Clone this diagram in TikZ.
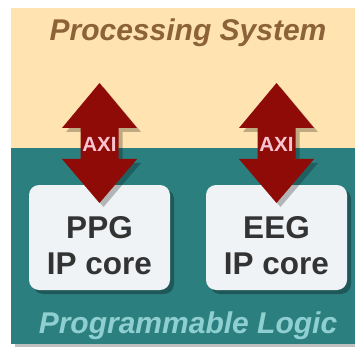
\documentclass[tikz,border=0pt]{standalone}
\usepackage{fontspec}
\setmainfont{Liberation Sans}
\definecolor{psfill}{HTML}{FFE3B0}
\definecolor{plfill}{HTML}{2C7F7F}
\definecolor{pstext}{HTML}{8C6239}
\definecolor{pltext}{HTML}{8FCFD1}
\definecolor{busred}{HTML}{8E0B07}
\definecolor{buslabel}{HTML}{F9C4CF}
\definecolor{corefill}{HTML}{EFF3F5}
\definecolor{coretext}{HTML}{333333}
\tikzset{
  regiontitle/.style={font=\fontsize{30}{34}\selectfont\bfseries\itshape, anchor=base, inner sep=0pt},
  corebox/.style={fill=corefill, rounded corners=10pt},
  coreshadow/.style={fill=black, fill opacity=0.3, rounded corners=10pt},
  coretitle/.style={font=\fontsize{31.5}{36}\selectfont\bfseries, text=coretext, align=center, inner sep=0pt},
  buslabelstyle/.style={font=\fontsize{20.5}{22}\selectfont\bfseries, text=buslabel, inner sep=0pt},
  pics/axiarrow/.style={code={
    \fill[black, fill opacity=0.25, shift={(4,4)}]
      (0,-60) -- (37.5,-15) -- (19,-15) -- (19,16) -- (37.5,16) -- (0,60)
      -- (-37.5,16) -- (-19,16) -- (-19,-15) -- (-37.5,-15) -- cycle;
    \fill[busred]
      (0,-60) -- (37.5,-15) -- (19,-15) -- (19,16) -- (37.5,16) -- (0,60)
      -- (-37.5,16) -- (-19,16) -- (-19,-15) -- (-37.5,-15) -- cycle;
  }}
}
\begin{document}
\begin{tikzpicture}[x=1pt, y=-1pt]
  \useasboundingbox (0,0) rectangle (355,347);
  % outer drop shadow and the two regions
  \fill[black!25] (15,12) rectangle (359,347);
  \fill[psfill] (11,8) rectangle (355,148.5);
  \fill[plfill] (11,148.5) rectangle (355,343.5);
  \node[regiontitle, text=pstext] (ps) at (188,41) {Processing System};
  \node[regiontitle, text=pltext] (pl) at (188,333) {Programmable Logic};
  % IP core boxes
  \fill[coreshadow] (33,189) rectangle (174,294);
  \fill[coreshadow] (210,189) rectangle (351,294);
  \fill[corebox] (29,185) rectangle (170,290);
  \fill[corebox] (206,185) rectangle (347,290);
  \node[coretitle] (ppg) at (99.5,245.5) {PPG\\IP core};
  \node[coretitle] (eeg) at (276.5,245.5) {EEG\\IP core};
  % AXI interconnect arrows
  \pic at (99.5,143) {axiarrow};
  \pic at (276.5,143) {axiarrow};
  \node[buslabelstyle] (axil) at (99.5,144) {AXI};
  \node[buslabelstyle] (axir) at (276.5,144) {AXI};
\end{tikzpicture}
\end{document}
